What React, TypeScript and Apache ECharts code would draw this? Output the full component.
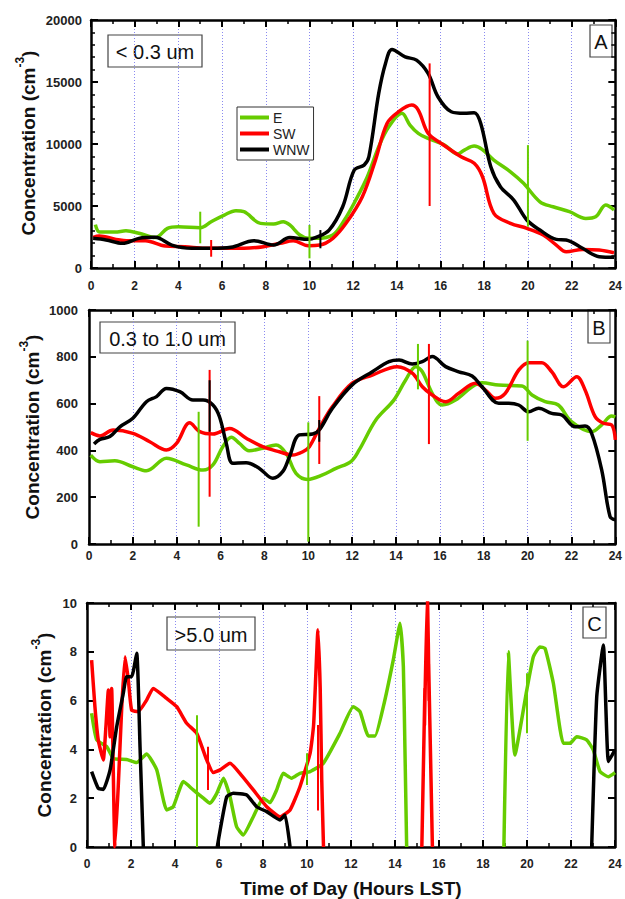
import React, { useEffect, useRef } from "react";
import * as echarts from "echarts";

// Hour ticks shared by all three panels
const hourTicks = [0, 2, 4, 6, 8, 10, 12, 14, 16, 18, 20, 22, 24];

const directions = ["E", "SW", "WNW"];
const dirColors = ["#66cc00", "#ff0000", "#000000"];

// Panel A: < 0.3 um  [hour, concentration]
const aE = [[0.2,3500],[0.4,2900],[1.1,2900],[1.6,3000],[2.2,2800],[2.95,2450],[3.5,3200],[4.0,3330],[5.0,3250],[5.5,3730],[6.1,4270],[6.63,4620],[7.0,4540],[7.76,3600],[8.36,3550],[8.8,3730],[9.1,3470],[9.56,2660],[9.94,2390],[10.3,2390],[11.07,2660],[11.6,3870],[12.12,5480],[12.65,7360],[13.17,9780],[13.63,11390],[14.23,12470],[14.6,11530],[14.98,10860],[15.43,10450],[16.18,9910],[16.79,9190],[17.09,9510],[17.54,9830],[17.9,9570],[18.44,8700],[19.2,7760],[19.8,6830],[20.55,5340],[21.15,4940],[21.9,4540],[22.65,4000],[23.1,4130],[23.56,5080],[23.94,4680]];
const aSW = [[0.1,2470],[0.38,2580],[1.14,2310],[1.74,2200],[2.49,2200],[3.4,1770],[4.3,1720],[5.2,1590],[6.1,1590],[7.0,1590],[7.9,1720],[8.66,1990],[9.26,2200],[9.94,1800],[10.47,1850],[11.07,2390],[11.67,3600],[12.42,5750],[13.02,8700],[13.55,11660],[14.08,12600],[14.68,13140],[14.98,12730],[15.43,10860],[16.03,10050],[16.94,8970],[17.54,8440],[17.92,7360],[18.44,4410],[19.2,3600],[19.95,3200],[20.7,2660],[21.3,1850],[21.75,1310],[22.5,1500],[23.26,1450],[23.94,1230]];
const aWNW = [[0.1,2390],[0.69,2260],[1.44,1990],[2.19,2390],[2.94,2470],[3.7,1850],[4.6,1590],[5.5,1590],[6.4,1670],[7.46,2200],[8.36,1850],[9.1,2450],[9.94,2310],[10.3,2470],[10.9,3060],[11.52,4940],[12.05,7900],[12.5,8300],[12.72,8970],[13.17,14080],[13.48,16500],[13.78,17630],[14.38,17030],[14.9,16760],[15.43,15690],[15.88,13810],[16.49,12600],[17.09,12470],[17.54,12520],[17.84,11660],[18.3,8160],[18.74,6550],[19.35,5480],[19.95,3870],[20.55,3060],[21.3,2310],[21.75,2260],[22.5,1590],[23.26,910],[23.94,860]];
// error bars [hour, low, high]
const aErrE = [[5.0,1990,4540],[10.0,780,3470],[20.0,3330,9910]];
const aErrSW = [[5.5,910,2260],[15.5,5000,16500]];
const aErrWNW = [[10.5,1590,3060]];

// Panel B: 0.3 to 1.0 um
const bE = [[0.08,380],[0.5,352],[1.18,356],[2.0,330],[2.62,313],[3.53,366],[4.44,338],[5.2,316],[5.65,338],[6.1,416],[6.49,456],[6.86,430],[7.3,399],[7.92,409],[8.53,423],[8.99,387],[9.44,302],[9.97,276],[10.65,295],[11.26,323],[11.94,352],[12.32,402],[13.08,530],[13.9,615],[14.44,701],[14.9,758],[15.2,736],[15.65,644],[16.1,594],[16.71,615],[17.47,672],[17.92,689],[18.68,679],[19.74,675],[20.2,637],[20.8,608],[21.4,594],[22.0,523],[22.92,480],[23.38,509],[23.83,547],[24,543]];
const bSW = [[0.08,476],[0.5,462],[1.1,487],[2.0,473],[2.77,437],[3.53,402],[3.99,430],[4.59,518],[5.05,480],[5.65,470],[6.41,494],[7.17,452],[7.92,416],[8.68,394],[9.29,380],[9.75,394],[10.05,416],[10.5,494],[11.1,587],[12.0,687],[12.92,722],[14.06,758],[14.74,730],[15.2,672],[15.65,637],[16.26,608],[16.86,644],[17.62,687],[18.08,658],[18.53,623],[18.98,644],[19.6,744],[20.05,775],[20.65,775],[21.1,736],[21.64,672],[22.24,715],[22.62,658],[23.08,544],[23.45,516],[23.83,509],[24,445]];
const bWNW = [[0.23,427],[0.5,447],[0.95,459],[1.41,501],[2.0,537],[2.62,608],[3.08,630],[3.53,665],[4.14,651],[4.74,615],[5.2,615],[5.65,594],[5.95,544],[6.26,430],[6.56,345],[7.17,347],[7.77,323],[8.38,281],[8.83,309],[9.14,373],[9.59,466],[10.2,470],[10.5,487],[11.1,580],[12.0,680],[12.92,736],[13.68,779],[14.14,786],[14.74,769],[15.2,779],[15.65,801],[16.26,758],[16.86,736],[17.47,718],[17.92,672],[18.68,601],[19.14,601],[19.59,594],[20.05,565],[20.5,580],[21.1,558],[21.56,551],[22.17,501],[22.62,504],[22.92,473],[23.38,316],[23.76,117],[24,103]];
const bErrE = [[5.0,74,565],[10.0,10,520],[15.0,661,855],[20.0,441,869]];
const bErrSW = [[5.5,202,744],[10.5,342,632],[15.5,427,855]];
const bErrWNW = [[5.5,480,700],[10.5,437,530]];

// Panel C: > 5.0 um (null = no data)
const cE = [[0.21,5.48],[0.44,4.39],[0.9,4.11],[1.2,3.63],[1.8,3.59],[2.26,3.46],[2.71,3.81],[3.17,3.16],[3.62,1.52],[3.92,1.65],[4.38,2.68],[4.83,2.34],[5.29,2.0],[5.59,1.79],[5.9,2.2],[6.2,2.82],[6.5,2.06],[6.8,0.83],[7.1,0.49],[7.56,1.24],[8.01,2.0],[8.32,1.82],[8.62,2.34],[8.92,3.02],[9.3,2.82],[9.68,3.02],[10.14,3.09],[10.74,3.43],[11.5,4.66],[12.1,5.75],[12.41,5.55],[12.79,4.55],[13.09,4.55],[13.47,5.75],[13.92,7.66],[14.23,9.17],[14.38,7.39],[14.45,4.11],[14.53,0],[14.6,null],[18.9,null],[18.95,0],[19.15,8.0],[19.45,3.77],[19.99,6.43],[20.29,7.8],[20.59,8.2],[20.82,8.14],[21.2,6.7],[21.65,4.25],[21.95,4.25],[22.26,4.52],[22.71,4.39],[23.01,3.98],[23.32,3.09],[23.7,2.88],[24.0,3.05]];
const cSW = [[0.21,7.66],[0.36,5.75],[0.51,4.39],[0.74,3.57],[0.86,4.93],[0.97,6.43],[1.05,4.52],[1.12,6.5],[1.27,0],[1.42,2.47],[1.58,5.75],[1.73,7.8],[1.88,6.84],[2.03,5.61],[2.33,5.55],[2.71,6.02],[3.01,6.5],[3.62,6.09],[4.08,5.75],[4.53,5.07],[4.99,4.66],[5.44,3.57],[5.74,3.05],[6.05,3.16],[6.5,3.43],[6.95,3.02],[7.56,2.34],[8.17,1.65],[8.77,1.24],[9.23,1.52],[9.68,2.47],[10.14,3.84],[10.3,5.0],[10.5,8.9],[10.6,6.5],[10.67,2.75],[10.75,0],[10.8,null],[15.1,null],[15.22,0],[15.36,6.5],[15.34,5.0],[15.47,10.6],[15.55,6.0],[15.53,7.5],[15.7,0]];
const cWNW = [[0.21,3.09],[0.51,2.41],[0.74,2.36],[1.05,3.16],[1.35,4.93],[1.65,6.3],[1.8,6.98],[2.03,6.98],[2.26,7.94],[2.41,4.11],[2.56,0],[2.6,null],[5.9,null],[5.92,0],[6.35,2.06],[6.65,2.2],[7.26,2.13],[7.71,1.65],[8.17,1.45],[8.77,1.11],[9.0,1.31],[9.23,0],[9.3,null],[22.9,null],[22.94,0],[23.17,6.16],[23.47,8.28],[23.7,3.5],[24.0,3.98]];
const cErrE = [[5.0,0,5.4],[10.0,2.54,3.84],[20.0,4.66,7.12]];
const cErrSW = [[5.5,2.34,4.11],[10.5,1.5,5.0]];

const panelLabels = ["< 0.3 um", "0.3 to 1.0 um", ">5.0 um"];
const panelLetters = ["A", "B", "C"];
const yMax = [20000, 1000, 10];
const yStep = [5000, 200, 2];

const FONT = "'Liberation Sans', Arial, Helvetica, sans-serif";

export default function App() {
  const ref = useRef<HTMLDivElement>(null);

  useEffect(() => {
    if (!ref.current) return;
    const chart = echarts.init(ref.current, null, { renderer: "svg" });

    const grids = [
      { left: 91, top: 20, width: 532, height: 248 },
      { left: 89, top: 310, width: 528, height: 234 },
      { left: 87, top: 603, width: 528, height: 244 },
    ];
    const xLabelMargin = [12, 6, 11];
    const yLabelMargin = [9, 11, 10];
    const yMinorSplit = [5, 0, 0];
    const smoothing = [0.35, 0.35, 0.15];

    const axisLine = { show: true, onZero: false, lineStyle: { color: "#000", width: 2.5 } };
    const axisTick = { show: true, inside: true, length: 7, lineStyle: { color: "#000", width: 2 } };
    const labelStyle = { fontFamily: FONT, fontSize: 12, fontWeight: "bold", color: "#222" };

    const xAxes: any[] = [];
    const yAxes: any[] = [];
    grids.forEach((_, i) => {
      const base = {
        type: "value",
        gridIndex: i,
        min: hourTicks[0],
        max: hourTicks[hourTicks.length - 1],
        interval: hourTicks[1] - hourTicks[0],
        axisLine,
        axisTick,
        minorTick: { show: true, splitNumber: 2, length: 4, lineStyle: { color: "#000", width: 1.5 } },
      };
      xAxes.push({
        ...base,
        position: "bottom",
        axisLabel: { ...labelStyle, margin: xLabelMargin[i] },
        splitLine: { show: true, lineStyle: { type: [1, 2], color: "#8a8af0", width: 1 } },
      });
      xAxes.push({ ...base, position: "top", axisLabel: { show: false }, splitLine: { show: false } });

      const ybase = {
        type: "value",
        gridIndex: i,
        min: 0,
        max: yMax[i],
        interval: yStep[i],
        axisLine,
        axisTick,
        minorTick: {
          show: yMinorSplit[i] > 0,
          splitNumber: yMinorSplit[i] || 5,
          length: 4,
          lineStyle: { color: "#000", width: 1.5 },
        },
        splitLine: { show: false },
      };
      yAxes.push({
        ...ybase,
        position: "left",
        axisLabel: { ...labelStyle, fontSize: 13, margin: yLabelMargin[i], formatter: (v: number) => String(v) },
      });
      yAxes.push({ ...ybase, position: "right", axisLabel: { show: false } });
    });

    const lineData = [
      [aE, aSW, aWNW],
      [bE, bSW, bWNW],
      [cE, cSW, cWNW],
    ];
    const errData = [
      [aErrE, aErrSW, aErrWNW],
      [bErrE, bErrSW, bErrWNW],
      [cErrE, cErrSW, []],
    ];

    const series: any[] = [];
    lineData.forEach((panel, p) => {
      panel.forEach((data, d) => {
        series.push({
          type: "line",
          name: directions[d],
          xAxisIndex: p * 2,
          yAxisIndex: p * 2,
          data,
          showSymbol: false,
          symbol: "none",
          smooth: smoothing[p],
          connectNulls: false,
          clip: true,
          color: dirColors[d],
          lineStyle: { color: dirColors[d], width: 3.5, join: "round" },
          z: 2 + d,
        });
      });
    });
    errData.forEach((panel, p) => {
      panel.forEach((data, d) => {
        if (!data.length) return;
        const color = dirColors[d];
        series.push({
          type: "custom",
          xAxisIndex: p * 2,
          yAxisIndex: p * 2,
          data,
          encode: { x: 0, y: [1, 2] },
          z: 6,
          renderItem: (_params: any, api: any) => {
            const x = api.value(0);
            const p1 = api.coord([x, api.value(1)]);
            const p2 = api.coord([x, api.value(2)]);
            return {
              type: "line",
              shape: { x1: p1[0], y1: p1[1], x2: p2[0], y2: p2[1] },
              style: { stroke: color, lineWidth: 2 },
            };
          },
        });
      });
    });

    // Boxed labels for each panel
    const labelBoxes = [
      { x: 108, y: 35, w: 94, h: 32 },
      { x: 100, y: 322, w: 135, h: 31 },
      { x: 167, y: 617, w: 88, h: 33 },
    ];
    const letterBoxes = [
      { x: 590, y: 25, w: 22, h: 32 },
      { x: 588, y: 310, w: 22, h: 33 },
      { x: 583, y: 607, w: 23, h: 31 },
    ];
    const boxed = (b: any, text: string) => ({
      type: "group",
      children: [
        {
          type: "rect",
          shape: { x: b.x, y: b.y, width: b.w, height: b.h },
          style: { fill: "#fff", stroke: "#444", lineWidth: 1.2 },
        },
        {
          type: "text",
          x: b.x + b.w / 2,
          y: b.y + b.h / 2 + 1,
          style: { text, fontFamily: FONT, fontSize: 20, fill: "#111", align: "center", verticalAlign: "middle" },
        },
      ],
    });

    const yTitlePos = [
      { x: 26, y: 143 },
      { x: 30, y: 427 },
      { x: 42, y: 725 },
    ];
    const yTitles = yTitlePos.map((pos) => ({
      type: "text",
      x: pos.x,
      y: pos.y,
      rotation: Math.PI / 2,
      style: {
        text: "{a|Concentration (cm}{s|-3}{a|)}",
        align: "center",
        verticalAlign: "middle",
        fill: "#111",
        rich: {
          a: { fontFamily: FONT, fontSize: 19, fontWeight: "bold", fill: "#111", lineHeight: 24, verticalAlign: "bottom" },
          s: { fontFamily: FONT, fontSize: 12, fontWeight: "bold", fill: "#111", lineHeight: 24, verticalAlign: "top" },
        },
      },
    }));

    const option: any = {
      animation: false,
      backgroundColor: "#fff",
      grid: grids,
      xAxis: xAxes,
      yAxis: yAxes,
      legend: {
        data: directions,
        orient: "vertical",
        left: 237,
        top: 107,
        icon: "rect",
        itemWidth: 29,
        itemHeight: 4,
        itemGap: 1,
        padding: [3, 4, 3, 3],
        borderColor: "#333",
        borderWidth: 1,
        backgroundColor: "#fff",
        selectedMode: false,
        textStyle: { fontFamily: FONT, fontSize: 14, color: "#222", lineHeight: 15, padding: [0, 0, 0, -1] },
      },
      graphic: [
        ...panelLabels.map((t, i) => boxed(labelBoxes[i], t)),
        ...panelLetters.map((t, i) => boxed(letterBoxes[i], t)),
        ...yTitles,
        {
          type: "text",
          x: 351,
          y: 888,
          style: {
            text: "Time of Day (Hours LST)",
            fontFamily: FONT,
            fontSize: 19,
            fontWeight: "bold",
            fill: "#111",
            align: "center",
            verticalAlign: "middle",
          },
        },
      ],
      series,
    };

    chart.setOption(option);
    return () => chart.dispose();
  }, []);

  return <div ref={ref} style={{ position: "absolute", left: 0, top: 0, width: 625, height: 899 }} />;
}
